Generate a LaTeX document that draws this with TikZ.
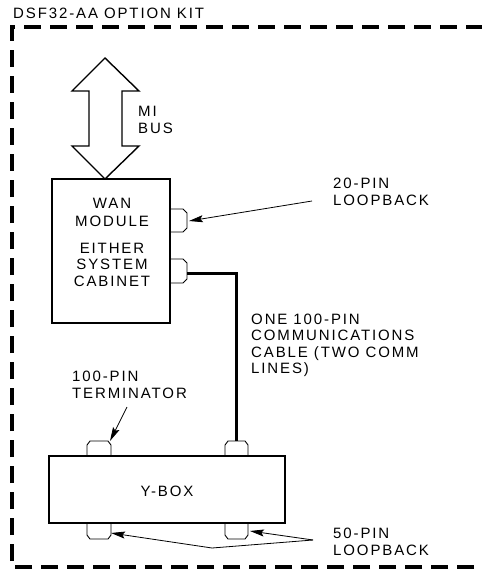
\documentclass[tikz,border=0pt]{standalone}
\usepackage{fontspec}
\setmainfont[LetterSpace=12.5]{Liberation Sans}
\usetikzlibrary{arrows.meta}
\tikzset{
  lbl/.style={inner sep=0pt, font=\fontsize{15}{16.5}\selectfont},
  boxline/.style={line width=1.4pt},
  conn/.style={line width=0.9pt, line join=miter},
  ptr/.style={line width=0.8pt, -{Stealth[length=14pt,width=7pt,inset=2.5pt]}},
  cable/.style={line width=3pt},
  kit/.style={line width=4pt, dash pattern=on 17pt off 9pt}
}
\begin{document}
\begin{tikzpicture}[x=1pt,y=-1pt]
\useasboundingbox (0,0) rectangle (481,569);
% kit border
\draw[kit] (500,567) -- (12,567) -- (12,27) -- (500,27);
\node[lbl, anchor=base west] (title) at (13,18.5) {DSF32-AA OPTION KIT};
% MI bus double arrow
\draw[boxline, line join=miter] (105,58) -- (139,91) -- (122,91) -- (122,146) -- (139,146) -- (105,179)
  -- (72,146) -- (89,146) -- (89,91) -- (72,91) -- cycle;
\node[lbl, anchor=base west, align=left] (mibus) at (138,133.4) {MI\\BUS};
% WAN module box
\node[draw, boxline, minimum width=118pt, minimum height=144pt, inner sep=0pt] (wan) at (111,251) {};
\node[lbl, anchor=base, align=center] (wantxt) at (112,226.4) {WAN\\[1.5pt]MODULE};
\node[lbl, anchor=base, align=center] (cabtxt) at (112,286.4) {EITHER\\SYSTEM\\CABINET};
% connectors on WAN box
\draw[conn] (wan.east |- 0,209) -- (183,209) -- (187,213) -- (187,228) -- (183,232) -- (wan.east |- 0,232);
\draw[conn] (wan.east |- 0,259) -- (183,259) -- (187,263) -- (187,279) -- (183,283) -- (wan.east |- 0,283);
\coordinate (c20) at (189,221);
\coordinate (c100) at (187,273);
% Y-box
\node[draw, boxline, minimum width=236pt, minimum height=67pt, inner sep=0pt] (ybox) at (167,489.5) {};
\node[lbl, anchor=base] (ytxt) at (167,496.4) {Y-BOX};
% Y-box connectors
\draw[conn] (87,456) -- (87,445) -- (90,441) -- (108,441) -- (111,445) -- (111,456);
\draw[conn] (225,456) -- (225,445) -- (228,441) -- (245,441) -- (248,445) -- (248,456);
\draw[conn] (87,523) -- (87,535) -- (90,539) -- (108,539) -- (111,535) -- (111,523);
\draw[conn] (225,523) -- (225,535) -- (228,539) -- (245,539) -- (248,535) -- (248,523);
\coordinate (term) at (110,441);
\coordinate (ytop) at (236.5,441);
\coordinate (lb1) at (111,533);
\coordinate (lb2) at (250,531);
% cable
\draw[cable] (c100) -- (ytop |- c100) -- (ytop);
% labels
\node[lbl, anchor=base west, align=left] (l20) at (333,205.4) {20-PIN\\LOOPBACK};
\node[lbl, anchor=base west, align=left] (lcable) at (251,373.5) {ONE 100-PIN\\COMMUNICATIONS\\CABLE (TWO COMM\\LINES)};
\node[lbl, anchor=base west, align=left] (lterm) at (72,398.4) {100-PIN\\TERMINATOR};
\node[lbl, anchor=base west, align=left] (l50) at (333,555.4) {50-PIN\\LOOPBACK};
% pointers
\coordinate (p20) at (312,201);
\coordinate (pterm) at (127,407);
\coordinate (p50) at (313,540);
\coordinate (v50) at (212,548);
\draw[ptr] (p20) -- (c20);
\draw[ptr] (pterm) -- (term);
\draw[ptr] (p50) -- (lb2);
\draw[ptr] (p50) -- (v50) -- (lb1);
\end{tikzpicture}
\end{document}
